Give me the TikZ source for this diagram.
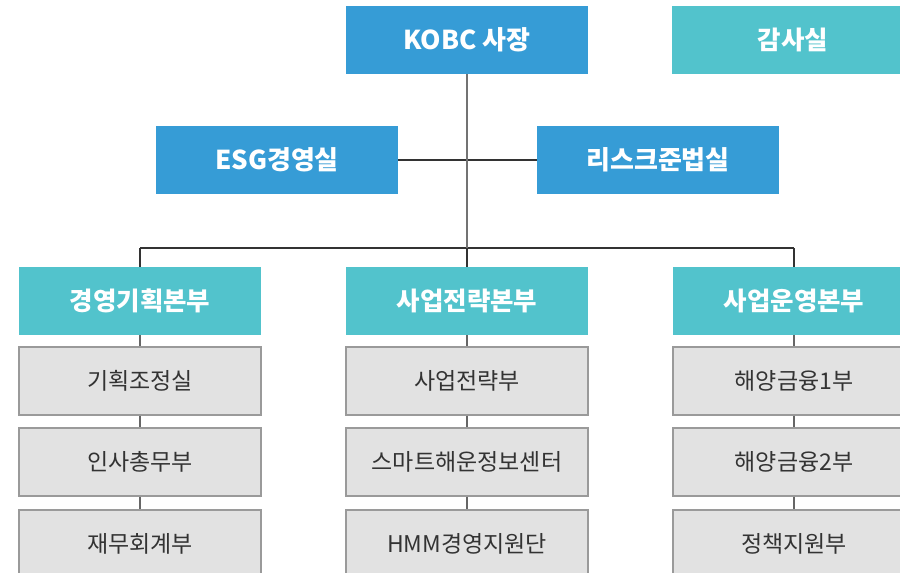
\documentclass[tikz,border=0pt]{standalone}
\usepackage{fontspec}
\setmainfont{Noto Sans CJK KR}
\definecolor{cblue}{HTML}{369CD6}
\definecolor{cteal}{HTML}{52C3CC}
\definecolor{cgray}{HTML}{E2E2E2}
\definecolor{cgrayline}{HTML}{9A9A9A}
\definecolor{ctext}{HTML}{333333}
\tikzset{
  topbox/.style={fill=cblue, draw=none, minimum width=242pt, minimum height=68pt, inner sep=0pt, text=white, font=\bfseries\fontsize{26}{30}\selectfont},
  divbox/.style={fill=cteal, draw=none, minimum width=242pt, minimum height=68pt, inner sep=0pt, text=white, font=\bfseries\fontsize{25.5}{30}\selectfont},
  unitbox/.style={fill=cgray, draw=cgrayline, line width=1.2pt, minimum width=242pt, minimum height=68pt, inner sep=0pt, text=ctext, font=\fontsize{23}{27}\selectfont},
  vline/.style={draw=black!55, line width=1.5pt},
  hline/.style={draw=black!80, line width=1.2pt},
  uline/.style={draw=black!60, line width=1.5pt}
}
\begin{document}
\begin{tikzpicture}[x=1pt,y=-1pt]
\useasboundingbox (0,0) rectangle (900,573);
\clip (0,0) rectangle (900,573);
% top
\node[topbox] (ceo) at (467,40) {KOBC 사장};
\node[divbox] (audit) at (793,40) {감사실};
\node[topbox] (esg) at (277,160) {ESG경영실};
\node[topbox] (risk) at (658,160) {리스크준법실};
% divisions
\node[divbox] (d1) at (140,301) {경영기획본부};
\node[divbox] (d2) at (467,301) {사업전략본부};
\node[divbox] (d3) at (794,301) {사업운영본부};
% units
\node[unitbox] (u11) at (140,381) {기획조정실};
\node[unitbox] (u12) at (140,462) {인사총무부};
\node[unitbox] (u13) at (140,544) {재무회계부};
\node[unitbox] (u21) at (467,381) {사업전략부};
\node[unitbox] (u22) at (467,462) {스마트해운정보센터};
\node[unitbox] (u23) at (467,544) {HMM경영지원단};
\node[unitbox] (u31) at (794,381) {해양금융1부};
\node[unitbox] (u32) at (794,462) {해양금융2부};
\node[unitbox] (u33) at (794,544) {정책지원부};
% connectors
\coordinate (jn) at (467,248);
\coordinate (jl) at (140,248);
\coordinate (jr) at (794,248);
\draw[hline] (esg.east) -- (risk.west);
\draw[hline] (jl) -- (jr);
\draw[vline] (ceo.south) -- (jn);
\draw[hline] (jl) -- (d1.north);
\draw[hline] (jn) -- (d2.north);
\draw[hline] (jr) -- (d3.north);
\foreach \c in {1,2,3}{
  \draw[uline] (d\c.south) -- (u\c1.north);
  \draw[uline] (u\c1.south) -- (u\c2.north);
  \draw[uline] (u\c2.south) -- (u\c3.north);
}
\end{tikzpicture}
\end{document}
